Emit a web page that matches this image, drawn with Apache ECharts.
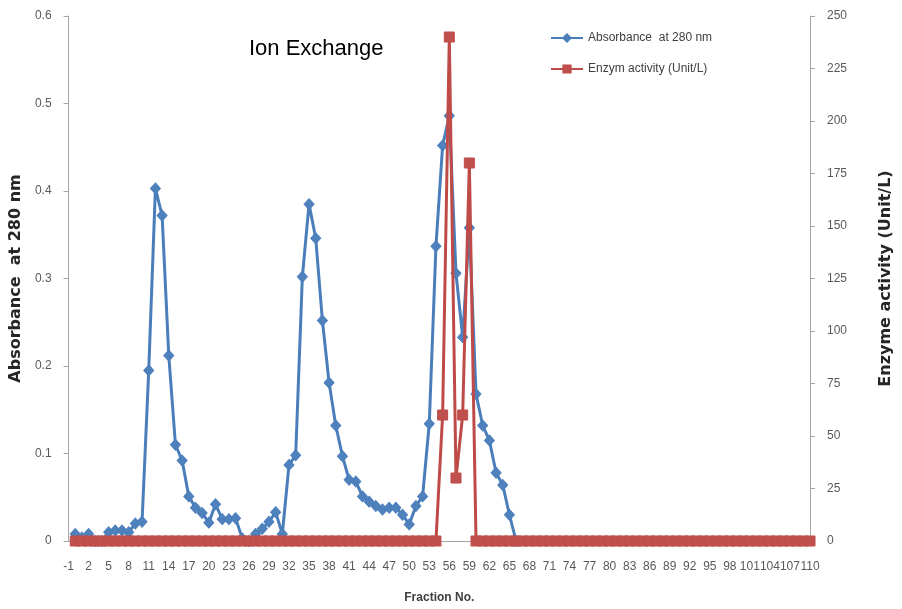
<!DOCTYPE html>
<html>
<head>
<meta charset="utf-8">
<script src="https://cdn.jsdelivr.net/npm/echarts@6/dist/echarts.min.js"></script>
<style>
html,body{margin:0;padding:0;background:#fff;}
#chart{width:902px;height:609px;}
</style>
</head>
<body>
<div id="chart"></div>
<script>
// Fraction numbers shown on the category axis
const fractions = [-1,0,1,2,3,4,5,6,7,8,9,10,11,12,13,14,15,16,17,18,19,20,21,22,23,24,25,26,27,28,29,30,
  31,32,33,34,35,36,37,38,39,40,41,42,43,44,45,46,47,48,49,50,51,52,53,54,55,56,57,58,59,60,
  61,62,63,64,65,66,67,68,69,70,71,72,73,74,75,76,77,78,79,80,81,82,83,84,85,86,87,88,89,90,
  91,92,93,94,95,96,97,98,99,100,101,102,103,104,105,106,107,108,109,110];

// Absorbance at 280 nm, fractions 0..66
const absorbanceStart = 0;
const absorbance = [
  0.008,0.004,0.008,0.0,0.0,0.010,0.012,0.012,0.010,0.020,
  0.022,0.195,0.403,0.372,0.212,0.110,0.092,0.051,0.038,0.032,
  0.021,0.042,0.025,0.025,0.026,0.003,0.0,0.008,0.014,0.022,
  0.033,0.008,0.087,0.098,0.302,0.385,0.346,0.252,0.181,0.132,
  0.097,0.070,0.068,0.051,0.045,0.040,0.036,0.038,0.038,0.030,
  0.019,0.040,0.051,0.134,0.337,0.452,0.486,0.306,0.233,0.358,
  0.168,0.132,0.115,0.078,0.064,0.030,0.0
];

// Enzyme activity (Unit/L), fractions 0..110
const activityStart = 0;
const activity = [
  0,0,0,0,0,0,0,0,0,0, 0,0,0,0,0,0,0,0,0,0,
  0,0,0,0,0,0,0,0,0,0, 0,0,0,0,0,0,0,0,0,0,
  0,0,0,0,0,0,0,0,0,0, 0,0,0,0,0,60,240,30,60,180,
  0,0,0,0,0,0,0,0,0,0, 0,0,0,0,0,0,0,0,0,0,
  0,0,0,0,0,0,0,0,0,0, 0,0,0,0,0,0,0,0,0,0,
  0,0,0,0,0,0,0,0,0,0, 0
];

const leftTicks = {min: 0, max: 0.6, interval: 0.1};
const rightTicks = {min: 0, max: 250, interval: 25};

function alignTo(values, start) {
  return fractions.map(f => {
    const i = f - start;
    return (i >= 0 && i < values.length) ? values[i] : null;
  });
}

const chart = echarts.init(document.getElementById('chart'), null, {renderer: 'canvas'});
const baseFont = '"Liberation Sans", Arial, sans-serif';
const labelColor = '#595959';
const axisGray = '#A6A6A6';

chart.setOption({
  animation: false,
  backgroundColor: '#ffffff',
  title: {
    text: 'Ion Exchange',
    left: 244, top: 33,
    textStyle: {fontFamily: baseFont, fontSize: 22, fontWeight: 'normal', color: '#000'}
  },
  legend: {
    orient: 'vertical',
    left: 545, top: 27,
    itemWidth: 32, itemHeight: 9, itemGap: 19,
    textStyle: {fontFamily: baseFont, fontSize: 12, color: '#404040'},
    data: ['Absorbance  at 280 nm', 'Enzym activity (Unit/L)']
  },
  grid: {left: 62, right: 86, top: 16, bottom: 64, containLabel: false},
  xAxis: {
    type: 'category',
    data: fractions.map(String),
    boundaryGap: false,
    name: 'Fraction No.',
    nameLocation: 'middle',
    nameGap: 51,
    nameTextStyle: {fontFamily: baseFont, fontSize: 12, fontWeight: 'bold', color: '#404040'},
    axisLine: {lineStyle: {color: axisGray, width: 1}},
    axisTick: {show: false},
    axisLabel: {interval: 2, margin: 20, fontFamily: baseFont, fontSize: 12, color: labelColor}
  },
  yAxis: [
    {
      type: 'value',
      min: leftTicks.min, max: leftTicks.max, interval: leftTicks.interval,
      name: 'Absorbance  at 280 nm',
      nameLocation: 'middle', nameRotate: 90, nameGap: 38,
      nameTextStyle: {fontFamily: '"DejaVu Sans", sans-serif', fontSize: 16, fontWeight: 'bold', color: '#262626'},
      axisLine: {show: true, lineStyle: {color: axisGray}},
      axisTick: {show: true, length: 5, lineStyle: {color: axisGray}},
      splitLine: {show: false},
      axisLabel: {margin: 17, fontFamily: baseFont, fontSize: 12, color: labelColor}
    },
    {
      type: 'value',
      position: 'right',
      min: rightTicks.min, max: rightTicks.max, interval: rightTicks.interval,
      name: 'Enzyme activity (Unit/L)',
      nameLocation: 'middle', nameRotate: 90, nameGap: 68,
      nameTextStyle: {fontFamily: '"DejaVu Sans", sans-serif', fontSize: 16, fontWeight: 'bold', color: '#262626'},
      axisLine: {show: true, lineStyle: {color: axisGray}},
      axisTick: {show: true, length: 5, lineStyle: {color: axisGray}},
      splitLine: {show: false},
      axisLabel: {margin: 17, fontFamily: baseFont, fontSize: 12, color: labelColor}
    }
  ],
  series: [
    {
      name: 'Absorbance  at 280 nm',
      type: 'line',
      yAxisIndex: 0,
      data: alignTo(absorbance, absorbanceStart),
      symbol: 'diamond',
      symbolSize: [10, 11],
      showAllSymbol: true,
      lineStyle: {color: '#4A7EBB', width: 3},
      itemStyle: {color: '#4F81BD', borderColor: '#4A7EBB', borderWidth: 1},
      z: 2
    },
    {
      name: 'Enzym activity (Unit/L)',
      type: 'line',
      yAxisIndex: 1,
      data: alignTo(activity, activityStart),
      symbol: 'rect',
      symbolSize: 10,
      showAllSymbol: true,
      lineStyle: {color: '#BE4B48', width: 3},
      itemStyle: {color: '#C0504D', borderColor: '#BE4B48', borderWidth: 1},
      z: 3
    }
  ]
});
</script>
</body>
</html>
